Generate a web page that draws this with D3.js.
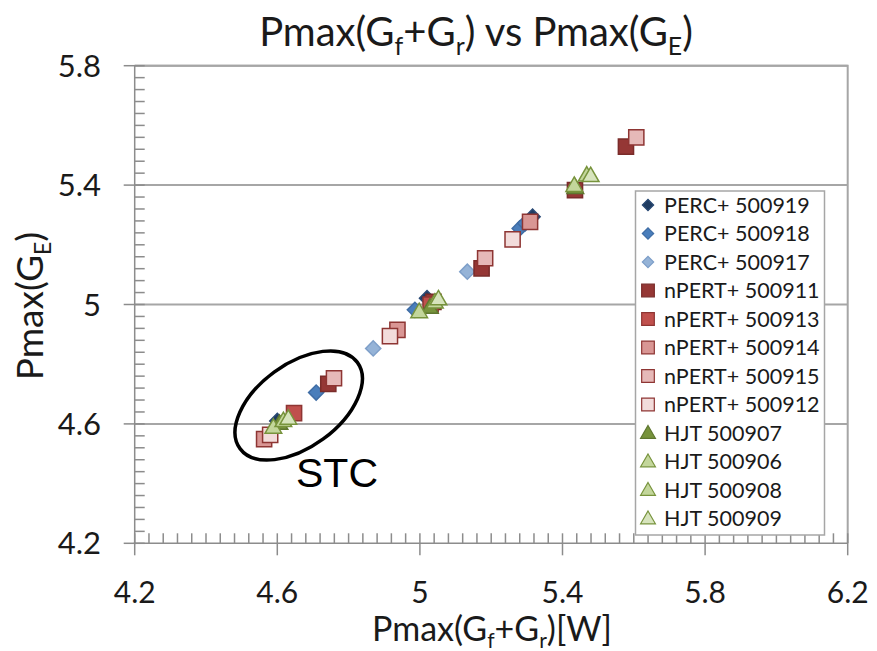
<!DOCTYPE html>
<html>
<head>
<meta charset="utf-8">
<script src="https://cdn.jsdelivr.net/npm/d3@7"></script>
<style>
  html, body { margin: 0; padding: 0; background: #fff; }
  svg { display: block; }
</style>
</head>
<body>
<svg id="chart" width="877" height="651"></svg>
<script>
// Axis ranges and ticks
const xDomain = [4.2, 6.2];
const yDomain = [4.2, 5.8];
const xMajorTicks = [4.2, 4.6, 5.0, 5.4, 5.8, 6.2];
const yMajorTicks = [4.2, 4.6, 5.0, 5.4, 5.8];
const xTickLabels = ["4.2", "4.6", "5", "5.4", "5.8", "6.2"];
const yTickLabels = ["4.2", "4.6", "5", "5.4", "5.8"];
const minorStep = 0.04;

// Series: [Pmax(Gf+Gr), Pmax(GE)]
const perc500919 = [[4.600, 4.610], [5.020, 5.021], [5.316, 5.294]];
const perc500918 = [[4.709, 4.705], [4.986, 4.982], [5.280, 5.255], [5.295, 5.272]];
const perc500917 = [[4.869, 4.853], [5.133, 5.110]];
const npert500911 = [[4.743, 4.734], [5.038, 5.009], [5.173, 5.121], [5.435, 5.383], [5.578, 5.529]];
const npert500913 = [[4.647, 4.636], [5.030, 5.000]];
const npert500914 = [[4.563, 4.549], [4.937, 4.915], [5.309, 5.277]];
const npert500915 = [[4.759, 4.753], [5.183, 5.155], [5.607, 5.560]];
const npert500912 = [[4.580, 4.563], [4.916, 4.894], [5.260, 5.218]];
const hjt500907 = [[4.606, 4.598], [5.028, 4.987], [5.436, 5.388]];
const hjt500906 = [[4.589, 4.585], [4.998, 4.972], [5.433, 5.395]];
const hjt500908 = [[4.617, 4.607], [5.042, 5.004], [5.468, 5.430]];
const hjt500909 = [[4.631, 4.615], [5.052, 5.015], [5.479, 5.428]];

const seriesNames = [
  "PERC+ 500919", "PERC+ 500918", "PERC+ 500917",
  "nPERT+ 500911", "nPERT+ 500913", "nPERT+ 500914", "nPERT+ 500915", "nPERT+ 500912",
  "HJT 500907", "HJT 500906", "HJT 500908", "HJT 500909"
];
const seriesData = [
  perc500919, perc500918, perc500917,
  npert500911, npert500913, npert500914, npert500915, npert500912,
  hjt500907, hjt500906, hjt500908, hjt500909
];
const seriesShapes = ["diamond", "diamond", "diamond",
  "square", "square", "square", "square", "square",
  "triangle", "triangle", "triangle", "triangle"];
const seriesFill = ["#1F3B61", "#4A7EBB", "#95B3D7",
  "#953735", "#C0504D", "#D99694", "#E6B9B8", "#F2DCDB",
  "#77933C", "#C3D69B", "#C3D69B", "#D7E4BD"];
const seriesStroke = ["#2A4A75", "#3F6DA5", "#7E9FC9",
  "#7A2C2A", "#8E3533", "#8E3533", "#8E3533", "#8E3533",
  "#5F7730", "#77933C", "#77933C", "#77933C"];

const svg = d3.select("#chart");
const plot = { left: 134.7, right: 847.7, top: 65.7, bottom: 543.3 };

const x = d3.scaleLinear().domain(xDomain).range([plot.left, plot.right]);
const y = d3.scaleLinear().domain(yDomain).range([plot.bottom, plot.top]);

const FONT = "Lato, 'Open Sans', sans-serif";
const gridColor = "#A6A6A6";
const axisColor = "#8C8C8C";

// Horizontal gridlines
svg.append("g").selectAll("line")
  .data(yMajorTicks.slice(1))
  .join("line")
  .attr("x1", plot.left).attr("x2", plot.right)
  .attr("y1", d => y(d)).attr("y2", d => y(d))
  .attr("stroke", gridColor).attr("stroke-width", 2);

// Plot area border (top / right)
svg.append("path")
  .attr("d", `M${plot.left},${plot.top}H${plot.right}V${plot.bottom}`)
  .attr("fill", "none").attr("stroke", gridColor).attr("stroke-width", 2);

// Minor tick values
const xMinor = d3.range(xDomain[0] + minorStep, xDomain[1] - 1e-9, minorStep)
  .filter(v => xMajorTicks.every(t => Math.abs(t - v) > 1e-6));
const yMinor = d3.range(yDomain[0] + minorStep, yDomain[1] - 1e-9, minorStep)
  .filter(v => yMajorTicks.every(t => Math.abs(t - v) > 1e-6));

const axes = svg.append("g").attr("stroke", axisColor).attr("stroke-width", 1.5);
// axis lines
axes.append("line").attr("x1", plot.left).attr("x2", plot.left)
  .attr("y1", plot.top).attr("y2", plot.bottom + 1);
axes.append("line").attr("x1", plot.left - 1).attr("x2", plot.right)
  .attr("y1", plot.bottom).attr("y2", plot.bottom);
// major ticks (cross)
axes.selectAll(".xmaj").data(xMajorTicks).join("line")
  .attr("x1", d => x(d)).attr("x2", d => x(d))
  .attr("y1", plot.bottom - 10).attr("y2", plot.bottom + 12);
axes.selectAll(".ymaj").data(yMajorTicks).join("line")
  .attr("y1", d => y(d)).attr("y2", d => y(d))
  .attr("x1", plot.left - 11).attr("x2", plot.left + 10);
// minor ticks (inside)
axes.selectAll(".xmin").data(xMinor).join("line")
  .attr("x1", d => x(d)).attr("x2", d => x(d))
  .attr("y1", plot.bottom - 10).attr("y2", plot.bottom);
axes.selectAll(".ymin").data(yMinor).join("line")
  .attr("y1", d => y(d)).attr("y2", d => y(d))
  .attr("x1", plot.left).attr("x2", plot.left + 10);

// Tick labels
svg.append("g").selectAll("text").data(xMajorTicks).join("text")
  .attr("x", d => x(d)).attr("y", 603)
  .attr("text-anchor", "middle")
  .attr("font-family", FONT).attr("font-size", 30).attr("fill", "#1a1a1a")
  .text((d, i) => xTickLabels[i]);
svg.append("g").selectAll("text").data(yMajorTicks).join("text")
  .attr("x", 101).attr("y", d => y(d) + 11)
  .attr("text-anchor", "end")
  .attr("font-family", FONT).attr("font-size", 31).attr("fill", "#1a1a1a")
  .text((d, i) => yTickLabels[i]);

// Text with subscripts: each part is a tspan, subscripts shifted down
function richText(sel, parts, size) {
  let shift = 0;
  parts.forEach(p => {
    const isSub = p.sub !== undefined;
    const target = isSub ? size * 0.22 : 0;
    sel.append("tspan")
      .attr("font-size", isSub ? size * 0.62 : size)
      .attr("dy", target - shift)
      .text(isSub ? p.sub : p.t);
    shift = target;
  });
}

// Title
const title = svg.append("text")
  .attr("x", 476).attr("y", 46).attr("text-anchor", "middle")
  .attr("font-family", FONT).attr("font-size", 40).attr("fill", "#1a1a1a");
richText(title, [{t: "Pmax(G"}, {sub: "f"}, {t: "+G"}, {sub: "r"}, {t: ") vs Pmax(G"}, {sub: "E"}, {t: ")"}], 40);

// X axis title
const xt = svg.append("text")
  .attr("x", 492).attr("y", 641).attr("text-anchor", "middle")
  .attr("font-family", FONT).attr("font-size", 34).attr("fill", "#1a1a1a");
richText(xt, [{t: "Pmax(G"}, {sub: "f"}, {t: "+G"}, {sub: "r"}, {t: ")[W]"}], 34);

// Y axis title
const yt = svg.append("text")
  .attr("transform", "translate(43,306) rotate(-90)")
  .attr("text-anchor", "middle")
  .attr("font-family", FONT).attr("font-size", 37).attr("fill", "#1a1a1a");
richText(yt, [{t: "Pmax(G"}, {sub: "E"}, {t: ")"}], 37);

// Marker generator
function markerPath(shape) {
  if (shape === "diamond") return d3.symbol(d3.symbolSquare, 115)();
  if (shape === "square") return d3.symbol(d3.symbolSquare, 230)();
  return d3.symbol(d3.symbolTriangle, 120)();
}
function markerTransform(shape, px, py) {
  return shape === "diamond" ? `translate(${px},${py}) rotate(45)` : `translate(${px},${py})`;
}

// Data markers
const marks = svg.append("g");
seriesData.forEach((pts, i) => {
  marks.append("g").selectAll("path").data(pts).join("path")
    .attr("d", markerPath(seriesShapes[i]))
    .attr("transform", d => markerTransform(seriesShapes[i], x(d[0]), y(d[1])))
    .attr("fill", seriesFill[i])
    .attr("stroke", seriesStroke[i])
    .attr("stroke-width", 1.5);
});

// Legend
const legend = svg.append("g");
legend.append("rect")
  .attr("x", 635.5).attr("y", 191).attr("width", 189).attr("height", 344)
  .attr("fill", "#fff").attr("stroke", "#A6A6A6").attr("stroke-width", 1.5);
seriesNames.forEach((name, i) => {
  const cy = 205 + i * 28.5;
  const shape = seriesShapes[i];
  const small = shape === "diamond" ? d3.symbol(d3.symbolSquare, 64)()
    : shape === "square" ? d3.symbol(d3.symbolSquare, 160)()
    : d3.symbol(d3.symbolTriangle, 95)();
  legend.append("path")
    .attr("d", small)
    .attr("transform", markerTransform(shape, 648, cy + (shape === "triangle" ? 1 : 0)))
    .attr("fill", seriesFill[i]).attr("stroke", seriesStroke[i]).attr("stroke-width", 1.2);
  legend.append("text")
    .attr("x", 664).attr("y", cy + 7.5)
    .attr("font-family", FONT).attr("font-size", 21.5).attr("fill", "#1a1a1a")
    .text(name);
});

// STC annotation
svg.append("ellipse")
  .attr("cx", 298.7).attr("cy", 405.5).attr("rx", 72.8).attr("ry", 41.5)
  .attr("transform", "rotate(-36.3, 298.7, 405.5)")
  .attr("fill", "none").attr("stroke", "#000").attr("stroke-width", 3.5);
svg.append("text")
  .attr("x", 337).attr("y", 487).attr("text-anchor", "middle")
  .attr("font-family", "'Liberation Sans', Arial, sans-serif").attr("font-size", 41)
  .attr("fill", "#000").text("STC");
</script>
</body>
</html>
